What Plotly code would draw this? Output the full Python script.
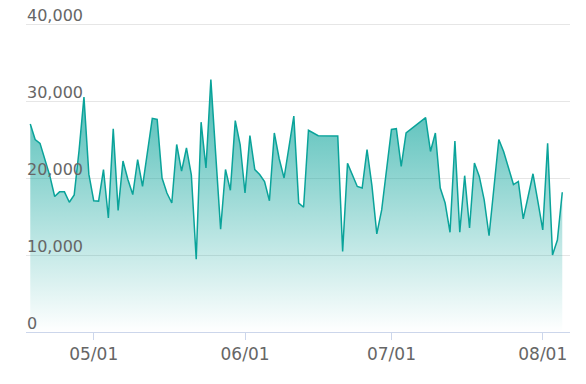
import plotly.graph_objects as go

dates = [
    "2024-04-18", "2024-04-19", "2024-04-20", "2024-04-21", "2024-04-22", "2024-04-23",
    "2024-04-24", "2024-04-25", "2024-04-26", "2024-04-27", "2024-04-28", "2024-04-29",
    "2024-04-30", "2024-05-01", "2024-05-02", "2024-05-03", "2024-05-04", "2024-05-05",
    "2024-05-06", "2024-05-07", "2024-05-08", "2024-05-09", "2024-05-10", "2024-05-11",
    "2024-05-12", "2024-05-13", "2024-05-14", "2024-05-15", "2024-05-16", "2024-05-17",
    "2024-05-18", "2024-05-19", "2024-05-20", "2024-05-21", "2024-05-22", "2024-05-23",
    "2024-05-24", "2024-05-25", "2024-05-26", "2024-05-27", "2024-05-28", "2024-05-29",
    "2024-05-30", "2024-05-31", "2024-06-01", "2024-06-02", "2024-06-03", "2024-06-04",
    "2024-06-05", "2024-06-06", "2024-06-07", "2024-06-08", "2024-06-09", "2024-06-10",
    "2024-06-11", "2024-06-12", "2024-06-13", "2024-06-14", "2024-06-15", "2024-06-16",
    "2024-06-20", "2024-06-21", "2024-06-22", "2024-06-23", "2024-06-24", "2024-06-25",
    "2024-06-26", "2024-06-27", "2024-06-28", "2024-06-29", "2024-06-30", "2024-07-01",
    "2024-07-02", "2024-07-03", "2024-07-04", "2024-07-08", "2024-07-09", "2024-07-10",
    "2024-07-11", "2024-07-12", "2024-07-13", "2024-07-14", "2024-07-15", "2024-07-16",
    "2024-07-17", "2024-07-18", "2024-07-19", "2024-07-20", "2024-07-21", "2024-07-22",
    "2024-07-23", "2024-07-24", "2024-07-25", "2024-07-26", "2024-07-27", "2024-07-28",
    "2024-07-29", "2024-07-30", "2024-07-31", "2024-08-01", "2024-08-02", "2024-08-03",
    "2024-08-04", "2024-08-05",
]

values = [
    27000, 25000, 24500, 22400, 20300, 17600,
    18200, 18200, 16850, 17800, 23600, 30500,
    20500, 17050, 17000, 21100, 14800, 26400,
    15800, 22200, 19800, 17850, 22400, 18900,
    23300, 27750, 27600, 20000, 18050, 16750,
    24350, 20900, 23900, 20400, 9450, 27250,
    21300, 32800, 23000, 13350, 21100, 18400,
    27450, 24350, 18050, 25500, 21100, 20450,
    19550, 17050, 25850, 22500, 20000, 24350,
    28050, 16750, 16200, 26200, 25850, 25500,
    25450, 10450, 21900, 20300, 18900, 18700,
    23700, 19000, 12750, 15850, 21100, 26300,
    26400, 21500, 25850, 27850, 23450, 25850,
    18700, 16750, 12950, 24800, 12950, 20300,
    13500, 21950, 20200, 17150, 12500, 18500,
    25000, 23400, 21300, 19150, 19550, 14700,
    17600, 20550, 16950, 13250, 24500, 10000,
    11950, 18150,
]

x_tick_vals = ["2024-05-01", "2024-06-01", "2024-07-01", "2024-08-01"]
x_tick_text = ["05/01", "06/01", "07/01", "08/01"]
y_tick_vals = [0, 10000, 20000, 30000, 40000]
y_tick_text = ["0", "10,000", "20,000", "30,000", "40,000"]

line_color = "#0aa39a"
label_font = dict(family="DejaVu Sans", size=16, color="#666666")

fig = go.Figure()
fig.add_trace(go.Scatter(
    x=dates,
    y=values,
    mode="lines",
    line=dict(color=line_color, width=1.5),
    fill="tozeroy",
    fillgradient=dict(
        type="vertical",
        start=0,
        stop=max(values),
        colorscale=[[0, "rgba(10,163,154,0.0)"], [1, "rgba(10,163,154,0.75)"]],
    ),
    hoverinfo="skip",
))

# y-axis labels sit inside the plot, just above each gridline
for v, t in zip(y_tick_vals, y_tick_text):
    fig.add_annotation(
        x=0, xref="paper", xanchor="left",
        y=v, yref="y", yanchor="bottom",
        text=t, showarrow=False, font=label_font,
        xshift=-1, yshift=-3,
    )

fig.update_layout(
    width=586,
    height=384,
    margin=dict(l=26, r=16, t=8, b=52, autoexpand=False),
    plot_bgcolor="white",
    paper_bgcolor="white",
    showlegend=False,
    font=label_font,
    xaxis=dict(
        type="date",
        range=["2024-04-17 03:00", "2024-08-06 14:00"],
        tickvals=x_tick_vals,
        ticktext=x_tick_text,
        showgrid=False,
        showline=True,
        linecolor="#ccd6eb",
        linewidth=1,
        ticks="outside",
        ticklen=7,
        tickcolor="#ccd6eb",
        tickfont=dict(family="DejaVu Sans", size=17, color="#666666"),
        zeroline=False,
        automargin=False,
        fixedrange=True,
    ),
    yaxis=dict(
        range=[0, 42078],
        tickvals=y_tick_vals,
        showticklabels=False,
        showgrid=True,
        gridcolor="#e6e6e6",
        gridwidth=1,
        showline=False,
        zeroline=False,
        ticks="",
        automargin=False,
        fixedrange=True,
    ),
)

fig.write_html(
    "out.html",
    config={"displayModeBar": False, "staticPlot": True},
    post_script="document.body.style.margin='0';document.body.style.overflow='hidden';",
)
